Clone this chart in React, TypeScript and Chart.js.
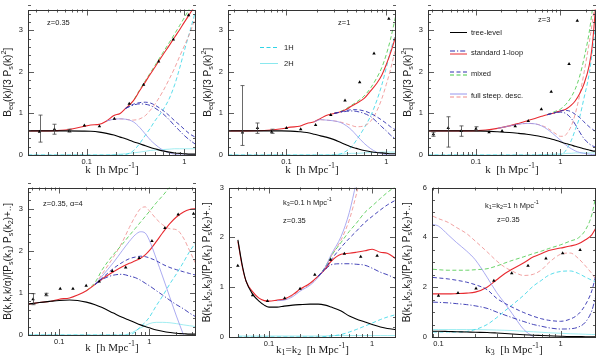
import React, { useEffect, useRef } from "react";
import { Chart, registerables } from "chart.js";
Chart.register(...registerables);

const SANS = '"Liberation Sans", Arial, sans-serif';
const SERIF = '"Liberation Serif", "Times New Roman", serif';

const COL = {
  tree: "#000000",
  red: "#e82a30",
  blue: "#3030b0",
  green: "#44c844",
  lav: "#9696ee",
  pink: "#ee8a8a",
  cyan: "#30d4e6",
  cyan2: "#8ae8ee",
};

const _ = null;

// ---------------- Panel 1 : z = 0.35 equilateral ----------------
const p1K = [0.025, 0.04, 0.06, 0.09, 0.11, 0.135, 0.16, 0.19, 0.22, 0.25, 0.3, 0.35, 0.4, 0.45, 0.5, 0.6, 0.7, 0.8, 0.9, 1.0, 1.15, 1.32];
const p1Tree = [0.58, 0.58, 0.58, 0.575, 0.57, 0.55, 0.52, 0.48, 0.43, 0.39, 0.32, 0.27, 0.22, 0.18, 0.15, 0.1, 0.07, 0.05, 0.04, 0.03, 0.02, 0.02];
const p1Std = [0.58, 0.58, 0.6, 0.68, 0.72, 0.74, 0.82, 0.95, 1.0, 1.12, 1.3, 1.55, 1.76, 1.95, 2.11, 2.4, 2.63, 2.84, 3.02, 3.19, 3.41, 3.63];
const p1Mix = [_, _, _, _, _, _, _, _, _, 1.12, 1.31, 1.57, 1.79, 1.98, 2.15, 2.45, 2.7, 2.92, 3.12, 3.3, 3.55, 3.82];
const p1StdD = [_, _, _, _, _, _, _, _, _, 1.12, 1.2, 1.23, 1.22, 1.19, 1.13, 1.0, 0.85, 0.7, 0.58, 0.47, 0.35, 0.25];
const p1MixD = [_, _, _, _, _, _, _, _, _, 1.12, 1.22, 1.26, 1.27, 1.25, 1.2, 1.08, 0.95, 0.82, 0.72, 0.62, 0.5, 0.42];
const p1FsdD = [_, _, _, _, _, _, 0.82, 0.86, 0.87, 0.86, 0.8, 0.66, 0.5, 0.36, 0.26, 0.12, 0.05, 0.02, 0.0, 0.0, 0.0, 0.0];
const p1Fsd = [_, _, _, _, _, _, 0.82, 0.86, 0.87, 0.86, 0.84, 0.87, 0.95, 1.08, 1.22, 1.52, 1.82, 2.1, 2.38, 2.62, 2.95, 3.35];
const p1H1 = [0, 0, 0, 0, 0, 0, 0, 0, 0, 0.01, 0.1, 0.28, 0.48, 0.65, 0.82, 1.07, 1.35, 1.7, 2.1, 2.5, 3.0, 3.5];
const p1H2 = [0, 0, 0, 0, 0, 0, 0, 0.01, 0.02, 0.03, 0.05, 0.07, 0.09, 0.11, 0.12, 0.13, 0.14, 0.15, 0.15, 0.15, 0.15, 0.15];
const p1PtK = [0.0328, 0.0467, 0.0664, 0.0946, 0.135, 0.192, 0.273, 0.383, 0.546, 0.772, 1.107];
const p1PtY = [0.56, 0.62, 0.58, 0.71, 0.69, 0.87, 1.23, 1.69, 2.25, 2.78, 3.36];
const p1PtLo = [0.31, 0.5, 0.55, _, _, _, _, _, _, _, _];
const p1PtHi = [0.96, 0.74, 0.62, _, _, _, _, _, _, _, _];

// ---------------- Panel 2 : z = 1 equilateral ----------------
const p2K = [0.026, 0.04, 0.06, 0.09, 0.11, 0.135, 0.16, 0.19, 0.22, 0.25, 0.3, 0.35, 0.4, 0.45, 0.5, 0.6, 0.7, 0.8, 0.9, 1.0, 1.1, 1.25];
const p2Tree = [0.58, 0.58, 0.58, 0.58, 0.575, 0.56, 0.54, 0.5, 0.46, 0.43, 0.37, 0.3, 0.24, 0.19, 0.16, 0.11, 0.08, 0.06, 0.05, 0.04, 0.03, 0.03];
const p2Std = [0.58, 0.58, 0.59, 0.63, 0.67, 0.69, 0.76, 0.8, 0.88, 0.95, 1.0, 1.04, 1.1, 1.18, 1.24, 1.36, 1.55, 1.72, 1.92, 2.18, 2.45, 2.88];
const p2Mix = [_, _, _, _, _, _, _, _, _, _, 1.0, 1.05, 1.12, 1.2, 1.27, 1.42, 1.62, 1.85, 2.1, 2.42, 2.78, 3.38];
const p2StdD = [_, _, _, _, _, _, _, _, _, _, 1.0, 1.03, 1.05, 1.06, 1.05, 1.0, 0.92, 0.8, 0.68, 0.58, 0.48, 0.38];
const p2MixD = [_, _, _, _, _, _, _, _, _, _, 1.0, 1.04, 1.07, 1.09, 1.09, 1.06, 1.0, 0.92, 0.84, 0.76, 0.68, 0.6];
const p2FsdD = [_, _, _, _, _, _, _, 0.8, 0.85, 0.84, 0.82, 0.78, 0.7, 0.6, 0.48, 0.28, 0.15, 0.07, 0.03, 0.01, 0.0, 0.0];
const p2Fsd = [_, _, _, _, _, _, _, 0.8, 0.85, 0.84, 0.82, 0.79, 0.75, 0.71, 0.68, 0.7, 0.82, 1.05, 1.35, 1.7, 2.05, 2.6];
const p2H1 = [0, 0, 0, 0, 0, 0, 0, 0, 0, 0, 0, 0.03, 0.1, 0.2, 0.35, 0.65, 0.95, 1.3, 1.68, 2.1, 2.5, 2.95];
const p2H2 = [0, 0, 0, 0, 0, 0, 0, 0, 0, 0, 0.01, 0.02, 0.03, 0.04, 0.04, 0.05, 0.06, 0.06, 0.07, 0.07, 0.07, 0.07];
const p2PtK = [0.0363, 0.0513, 0.0713, 0.1, 0.139, 0.196, 0.278, 0.386, 0.541, 0.753, 1.06];
const p2PtY = [0.54, 0.65, 0.56, 0.65, 0.62, 0.72, 0.96, 1.31, 1.75, 2.44, 3.28];
const p2PtLo = [0.23, 0.52, 0.52, _, _, _, _, _, _, _, _];
const p2PtHi = [1.67, 0.77, 0.62, _, _, _, _, _, _, _, _];

// ---------------- Panel 3 : z = 3 equilateral ----------------
const p3K = [0.027, 0.04, 0.06, 0.09, 0.13, 0.18, 0.25, 0.32, 0.4, 0.5, 0.6, 0.7, 0.8, 0.9, 1.0, 1.1, 1.2, 1.35, 1.5, 1.7, 1.9, 2.2, 2.4, 2.65];
const p3Tree = [0.58, 0.58, 0.58, 0.58, 0.575, 0.56, 0.54, 0.52, 0.5, 0.47, 0.44, 0.41, 0.38, 0.35, 0.32, 0.29, 0.27, 0.24, 0.21, 0.18, 0.15, 0.12, 0.1, 0.09];
const p3Std = [0.58, 0.58, 0.58, 0.58, 0.6, 0.64, 0.7, 0.76, 0.82, 0.88, 0.93, 0.97, 1.0, 1.03, 1.06, 1.08, 1.12, 1.2, 1.3, 1.48, 1.7, 2.15, 2.65, 3.7];
const p3Mix = [_, _, _, _, _, _, _, _, _, _, _, 0.97, 1.02, 1.06, 1.1, 1.17, 1.25, 1.4, 1.58, 1.9, 2.3, 2.95, 3.5, 4.2];
const p3StdD = [_, _, _, _, _, _, _, _, _, _, _, 0.97, 1.0, 1.02, 1.03, 1.02, 0.98, 0.88, 0.74, 0.55, 0.4, 0.27, 0.22, 0.19];
const p3MixD = [_, _, _, _, _, _, _, _, _, _, _, 0.97, 1.0, 1.03, 1.06, 1.07, 1.07, 1.04, 0.98, 0.9, 0.8, 0.68, 0.62, 0.56];
const p3FsdD = [_, _, _, _, _, 0.64, 0.7, 0.74, 0.76, 0.75, 0.7, 0.62, 0.53, 0.44, 0.36, 0.28, 0.22, 0.15, 0.1, 0.06, 0.04, 0.02, 0.01, 0.01];
const p3Fsd = [_, _, _, _, _, 0.64, 0.7, 0.74, 0.76, 0.75, 0.71, 0.65, 0.57, 0.5, 0.45, 0.45, 0.52, 0.7, 0.98, 1.45, 1.95, 2.7, 3.2, 3.9];
const p3H1 = [0, 0, 0, 0, 0, 0, 0, 0, 0, 0, 0, 0, 0, 0, 0, 0.05, 0.15, 0.35, 0.6, 0.92, 1.35, 1.95, 2.5, 3.2];
const p3H2 = [0, 0, 0, 0, 0, 0, 0, 0, 0, 0, 0.01, 0.01, 0.02, 0.02, 0.03, 0.03, 0.04, 0.04, 0.05, 0.05, 0.05, 0.05, 0.05, 0.05];
const p3PtK = [0.0313, 0.0469, 0.0668, 0.1, 0.143, 0.204, 0.292, 0.417, 0.596, 0.78, 1.27, 1.59];
const p3PtY = [0.5, 0.65, 0.58, 0.63, 0.55, 0.58, 0.69, 0.82, 1.1, 1.52, 2.19, 3.23];
const p3PtLo = [0.45, 0.19, 0.45, 0.58, _, _, _, _, _, _, _, _];
const p3PtHi = [0.55, 0.92, 0.7, 0.68, _, _, _, _, _, _, _, _];

// ---------------- Panel 4 : z = 0.35, alpha = 4 ----------------
const p4K = [0.045, 0.06, 0.08, 0.1, 0.13, 0.16, 0.2, 0.25, 0.3, 0.4, 0.5, 0.6, 0.7, 0.8, 0.9, 1.0, 1.2, 1.4, 1.7, 2.0, 2.4, 2.8, 3.3];
const p4Tree = [0.73, 0.77, 0.8, 0.82, 0.83, 0.82, 0.78, 0.72, 0.65, 0.52, 0.42, 0.35, 0.29, 0.24, 0.2, 0.17, 0.12, 0.09, 0.06, 0.04, 0.03, 0.02, 0.02];
const p4Std = [0.73, 0.77, 0.8, 0.85, 0.88, 0.95, 1.05, 1.2, 1.33, 1.5, 1.62, 1.7, 1.76, 1.82, 1.9, 2.0, 2.22, 2.42, 2.65, 2.8, 2.92, 2.98, 3.0];
const p4Mix = [_, _, _, _, _, _, 1.05, 1.25, 1.55, 1.91, 2.15, 2.36, 2.53, 2.68, 2.81, 2.93, 3.14, 3.3, 3.52, 3.71, _, _, _];
const p4StdD = [_, _, _, _, _, _, _, 1.2, 1.32, 1.42, 1.44, 1.4, 1.36, 1.3, 1.23, 1.17, 1.05, 0.95, 0.82, 0.72, 0.62, 0.52, 0.43];
const p4MixD = [_, _, _, _, _, _, _, 1.2, 1.35, 1.58, 1.72, 1.81, 1.85, 1.87, 1.86, 1.83, 1.76, 1.68, 1.6, 1.55, 1.5, 1.46, 1.42];
const p4FsdD = [_, _, _, _, _, _, _, 1.2, 1.4, 1.72, 2.0, 2.22, 2.38, 2.45, 2.42, 2.25, 1.8, 1.4, 0.88, 0.45, 0.0, _, _];
const p4Fsd = [_, _, _, _, _, _, _, 1.2, 1.45, 1.85, 2.2, 2.55, 2.82, 3.0, 3.04, 2.95, 2.75, 2.62, 2.52, 2.5, 2.3, 2.0, 1.68];
const p4H1 = [0, 0, 0, 0, 0, 0, 0, 0, 0, 0, 0, 0, 0.08, 0.2, 0.3, 0.42, 0.7, 0.92, 1.22, 1.45, 1.73, 1.98, 2.2];
const p4H2 = [0, 0, 0, 0, 0, 0, 0, 0, 0, 0, 0, 0.03, 0.1, 0.17, 0.22, 0.27, 0.3, 0.3, 0.29, 0.27, 0.24, 0.22, 0.2];
const p4PtK = [0.0512, 0.0716, 0.1025, 0.142, 0.199, 0.278, 0.388, 0.547, 0.771, 1.07, 1.49, 2.09, 3.1];
const p4PtY = [0.85, 0.96, 1.1, 1.1, 1.17, 1.27, 1.52, 1.6, 1.83, 2.23, 2.54, 2.86, 2.88];
const p4PtLo = [0.72, 0.93, _, _, _, _, _, _, _, _, _, _, _];
const p4PtHi = [0.98, 0.99, _, _, _, _, _, _, _, _, _, _, _];

// ---------------- Panel 5 : k3 = 0.1, z = 0.35 ----------------
const p5K = [0.05, 0.055, 0.06, 0.07, 0.08, 0.09, 0.1, 0.12, 0.14, 0.17, 0.2, 0.25, 0.3, 0.35, 0.4, 0.5, 0.6, 0.7, 0.85, 1.0, 1.2, 1.4, 1.7];
const p5Tree = [1.95, 1.45, 1.12, 0.85, 0.72, 0.64, 0.6, 0.6, 0.62, 0.64, 0.65, 0.66, 0.66, 0.64, 0.6, 0.52, 0.42, 0.36, 0.3, 0.25, 0.2, 0.17, 0.15];
const p5Std = [1.92, 1.42, 1.12, 0.9, 0.78, 0.73, 0.72, 0.74, 0.76, 0.85, 0.96, 1.08, 1.22, 1.36, 1.52, 1.66, 1.68, 1.7, 1.73, 1.76, 1.7, 1.68, 1.57];
const p5Mix = [_, _, _, _, _, _, _, _, _, _, _, _, 1.22, 1.4, 1.62, 1.9, 2.12, 2.28, 2.5, 2.63, 2.78, 2.9, 3.03];
const p5StdD = [_, _, _, _, _, _, _, _, _, _, _, _, 1.22, 1.35, 1.45, 1.47, 1.47, 1.46, 1.44, 1.38, 1.3, 1.25, 1.17];
const p5MixD = [_, _, _, _, _, _, _, _, _, _, _, _, 1.22, 1.38, 1.55, 1.8, 1.98, 2.12, 2.3, 2.42, 2.55, 2.65, 2.75];
const p5FsdD = [_, _, _, _, _, _, _, 0.73, 0.74, 0.81, 0.92, 1.04, 1.2, 1.4, 1.65, 2.02, 2.5, 3.1, 3.9, _, _, _, _];
const p5Fsd = [_, _, _, _, _, _, _, 0.73, 0.75, 0.83, 0.94, 1.06, 1.21, 1.38, 1.62, 1.95, 2.35, 2.85, 3.55, _, _, _, _];
const p5H1 = [0, 0, 0, 0, 0, 0, 0, 0, 0, 0, 0, 0, 0, 0.01, 0.02, 0.05, 0.1, 0.15, 0.22, 0.28, 0.35, 0.4, 0.45];
const p5H2 = [0.02, 0.02, 0.02, 0.02, 0.02, 0.02, 0.02, 0.02, 0.02, 0.02, 0.02, 0.02, 0.02, 0.02, 0.03, 0.03, 0.03, 0.03, 0.03, 0.03, 0.03, 0.03, 0.03];
const p5PtK = [0.0499, 0.0694, 0.0967, 0.142, 0.2, 0.278, 0.395, 0.537, 0.774, 1.116];
const p5PtY = [1.43, 0.84, 0.72, 0.78, 0.97, 1.25, 1.55, 1.67, 1.61, 1.63];

// ---------------- Panel 6 : k1 = k2 = 1, z = 0.35 ----------------
const p6K = [0.09, 0.1, 0.12, 0.14, 0.17, 0.2, 0.25, 0.3, 0.35, 0.4, 0.5, 0.6, 0.7, 0.8, 1.0, 1.2, 1.4, 1.6, 1.8, 1.95];
const p6Tree = [0.23, 0.23, 0.22, 0.21, 0.2, 0.19, 0.18, 0.16, 0.14, 0.12, 0.09, 0.07, 0.06, 0.05, 0.03, 0.02, 0.02, 0.01, 0.01, 0.01];
const p6Std = [1.73, 1.73, 1.73, 1.74, 1.76, 1.8, 2.0, 2.3, 2.55, 2.72, 2.98, 3.22, 3.35, 3.47, 3.57, 3.65, 3.74, 3.9, 4.1, 4.38];
const p6Mix = [2.72, 2.7, 2.68, 2.68, 2.68, 2.7, 2.74, 2.85, 2.97, 3.07, 3.22, 3.35, 3.45, 3.55, 3.7, 3.85, 3.98, 4.3, 4.9, 5.7];
const p6StdD = [1.4, 1.39, 1.37, 1.34, 1.3, 1.25, 1.15, 1.0, 0.88, 0.78, 0.62, 0.5, 0.43, 0.37, 0.32, 0.33, 0.4, 0.6, 1.05, 1.66];
const p6MixD = [2.39, 2.37, 2.33, 2.28, 2.2, 2.1, 1.9, 1.55, 1.35, 1.2, 0.98, 0.83, 0.73, 0.67, 0.63, 0.72, 0.92, 1.3, 1.85, 2.5];
const p6FsdD = [4.52, 4.45, 4.1, 3.8, 3.45, 3.1, 2.4, 1.78, 1.35, 0.95, 0.3, 0.0, _, _, _, _, _, _, _, _];
const p6Fsd = [4.85, 4.75, 4.6, 4.4, 4.15, 3.85, 3.42, 3.05, 2.8, 2.65, 2.47, 2.52, 2.7, 2.98, 3.32, 3.37, 3.15, 2.85, 2.55, 2.32];
const p6H1 = [0.2, 0.2, 0.2, 0.2, 0.22, 0.3, 0.5, 0.78, 1.05, 1.28, 1.68, 2.05, 2.28, 2.48, 2.63, 2.65, 2.55, 2.4, 2.28, 2.19];
const p6H2 = [0.3, 0.3, 0.3, 0.3, 0.3, 0.3, 0.29, 0.28, 0.27, 0.26, 0.23, 0.21, 0.19, 0.17, 0.15, 0.13, 0.12, 0.11, 0.1, 0.1];
const p6PtK = [0.1, 0.1445, 0.203, 0.284, 0.398, 0.541, 0.759, 1.04, 1.445];
const p6PtY = [1.66, 1.77, 1.95, 2.26, 2.56, 2.86, 3.15, 3.36, 3.49];

// ---------------- axis ticks & labels ----------------
const xTicksTop = [0.1, 1];
const yTicks3 = [0, 1, 2, 3];
const yTicks6 = [0, 2, 4, 6];

const yTitleEq = "B_{eq}(k)/[3 P_{s}(k)^{2}]";
const yTitleAlpha = "B(k,k,k/α)/[P_{s}(k_{1}) P_{s}(k_{2})+..]";
const yTitleGen = "B(k_{1},k_{2},k_{3})/[P_{s}(k_{1}) P_{s}(k_{2})+..]";
const xTitleK = "k  [h Mpc^{-1}]";
const xTitleK12 = "k_{1}=k_{2}  [h Mpc^{-1}]";
const xTitleK3 = "k_{3}  [h Mpc^{-1}]";

const legendLabels = ["tree-level", "standard 1-loop", "mixed", "full steep. desc."];
const haloLabels = ["1H", "2H"];

// ---------------- rich text helper ----------------
type Seg = { t: string; m: number };
function parseRich(s: string): Seg[] {
  const out: Seg[] = [];
  let buf = "";
  let i = 0;
  while (i < s.length) {
    const c = s[i];
    if ((c === "_" || c === "^") && s[i + 1] === "{") {
      if (buf) { out.push({ t: buf, m: 0 }); buf = ""; }
      const end = s.indexOf("}", i);
      out.push({ t: s.slice(i + 2, end), m: c === "_" ? 1 : 2 });
      i = end + 1;
    } else { buf += c; i++; }
  }
  if (buf) out.push({ t: buf, m: 0 });
  return out;
}
function drawRich(ctx: CanvasRenderingContext2D, s: string, x: number, y: number, size: number, family: string, align: string, rot = 0) {
  const segs = parseRich(s);
  const small = size * 0.72;
  const fontOf = (m: number) => `${m ? small : size}px ${family}`;
  let w = 0;
  for (const sg of segs) { ctx.font = fontOf(sg.m); w += ctx.measureText(sg.t).width; }
  ctx.save();
  ctx.translate(x, y);
  if (rot) ctx.rotate(rot);
  let cx = align === "center" ? -w / 2 : 0;
  ctx.textBaseline = "middle";
  ctx.textAlign = "left";
  ctx.fillStyle = "#1a1a1a";
  for (const sg of segs) {
    ctx.font = fontOf(sg.m);
    const dy = sg.m === 1 ? size * 0.3 : sg.m === 2 ? -size * 0.38 : 0;
    ctx.fillText(sg.t, cx, dy);
    cx += ctx.measureText(sg.t).width;
  }
  ctx.restore();
}

// ---------------- dataset builders ----------------
function curve(k: number[], y: (number | null)[], color: string, dash: number[], width: number) {
  return {
    type: "line",
    data: k.map((x, i) => ({ x, y: y[i] })),
    borderColor: color,
    borderWidth: width,
    borderDash: dash,
    pointRadius: 0,
    fill: false,
    cubicInterpolationMode: "monotone",
    spanGaps: false,
  };
}
function points(k: number[], y: number[], lo?: (number | null)[], hi?: (number | null)[]) {
  return {
    type: "line",
    data: k.map((x, i) => ({ x, y: y[i] })),
    showLine: false,
    pointStyle: "triangle",
    pointRadius: 2,
    pointBackgroundColor: "#000",
    pointBorderColor: "#000",
    pointBorderWidth: 0,
    errLo: lo,
    errHi: hi,
  };
}
const DASH = [4, 2.5];
const DASHDOT = [5, 2, 1.2, 2];

function curveSet(k: number[], tree: any[], std: any[], mix: any[], stdD: any[], mixD: any[], fsdD: any[], fsd: any[], h1: any[], h2: any[]) {
  return [
    curve(k, tree, COL.tree, [], 1.1),
    curve(k, stdD, COL.blue, DASHDOT, 0.9),
    curve(k, mixD, COL.blue, DASH, 0.9),
    curve(k, fsdD, COL.lav, [], 0.8),
    curve(k, std, COL.red, [], 1.1),
    curve(k, mix, COL.green, DASH, 0.8),
    curve(k, fsd, COL.pink, DASH, 0.8),
    curve(k, h1, COL.cyan, DASH, 0.8),
    curve(k, h2, COL.cyan2, [], 0.8),
  ];
}

type Note = { t: string; dx: number; dy: number };
type PanelCfg = {
  box: number[];
  plot: number[];
  xMin: number; xMax: number; yMax: number;
  yTicks: number[]; yMinor: number;
  xTitle: string; yTitle: string; yTitleX: number;
  datasets: any[];
  notes: Note[];
  legend?: string;
};

const panels: PanelCfg[] = [
  {
    box: [0, 0, 200, 178], plot: [28, 5, 197, 155],
    xMin: 0.025, xMax: 1.32, yMax: 3.5, yTicks: yTicks3, yMinor: 0.2,
    xTitle: xTitleK, yTitle: yTitleEq, yTitleX: 8,
    datasets: [points(p1PtK, p1PtY, p1PtLo, p1PtHi), ...curveSet(p1K, p1Tree, p1Std, p1Mix, p1StdD, p1MixD, p1FsdD, p1Fsd, p1H1, p1H2)],
    notes: [{ t: "z=0.35", dx: 19, dy: 13 }],
  },
  {
    box: [200, 0, 200, 178], plot: [228, 5, 397, 155],
    xMin: 0.026, xMax: 1.25, yMax: 3.5, yTicks: yTicks3, yMinor: 0.2,
    xTitle: xTitleK, yTitle: yTitleEq, yTitleX: 208,
    datasets: [points(p2PtK, p2PtY, p2PtLo, p2PtHi), ...curveSet(p2K, p2Tree, p2Std, p2Mix, p2StdD, p2MixD, p2FsdD, p2Fsd, p2H1, p2H2)],
    notes: [{ t: "z=1", dx: 110, dy: 13 }],
    legend: "halo",
  },
  {
    box: [400, 0, 200, 178], plot: [428, 5, 599, 155],
    xMin: 0.027, xMax: 2.65, yMax: 3.5, yTicks: yTicks3, yMinor: 0.2,
    xTitle: xTitleK, yTitle: yTitleEq, yTitleX: 408,
    datasets: [points(p3PtK, p3PtY, p3PtLo, p3PtHi), ...curveSet(p3K, p3Tree, p3Std, p3Mix, p3StdD, p3MixD, p3FsdD, p3Fsd, p3H1, p3H2)],
    notes: [{ t: "z=3", dx: 110, dy: 10 }],
    legend: "main",
  },
  {
    box: [0, 178, 200, 177], plot: [28, 183, 199, 335],
    xMin: 0.045, xMax: 3.3, yMax: 3.5, yTicks: yTicks3, yMinor: 0.2,
    xTitle: xTitleK, yTitle: yTitleAlpha, yTitleX: 8,
    datasets: [points(p4PtK, p4PtY, p4PtLo, p4PtHi), ...curveSet(p4K, p4Tree, p4Std, p4Mix, p4StdD, p4MixD, p4FsdD, p4Fsd, p4H1, p4H2)],
    notes: [{ t: "z=0.35, α=4", dx: 15, dy: 16 }],
  },
  {
    box: [200, 178, 200, 177], plot: [229, 185, 399, 337],
    xMin: 0.041, xMax: 1.7, yMax: 3, yTicks: yTicks3, yMinor: 0.2,
    xTitle: xTitleK12, yTitle: yTitleGen, yTitleX: 207,
    datasets: [points(p5PtK, p5PtY), ...curveSet(p5K, p5Tree, p5Std, p5Mix, p5StdD, p5MixD, p5FsdD, p5Fsd, p5H1, p5H2)],
    notes: [{ t: "k_{3}=0.1 h Mpc^{-1}", dx: 54, dy: 15 }, { t: "z=0.35", dx: 54, dy: 33 }],
  },
  {
    box: [400, 178, 200, 177], plot: [432, 185, 599, 337],
    xMin: 0.0885, xMax: 1.95, yMax: 6, yTicks: yTicks6, yMinor: 0.5,
    xTitle: xTitleK3, yTitle: yTitleGen, yTitleX: 407,
    datasets: [points(p6PtK, p6PtY), ...curveSet(p6K, p6Tree, p6Std, p6Mix, p6StdD, p6MixD, p6FsdD, p6Fsd, p6H1, p6H2)],
    notes: [{ t: "k_{1}=k_{2}=1 h Mpc^{-1}", dx: 53, dy: 18 }, { t: "z=0.35", dx: 65, dy: 32 }],
  },
];

function seg(ctx: CanvasRenderingContext2D, x0: number, y0: number, x1: number, y1: number, color: string, dash: number[], w: number) {
  ctx.save();
  ctx.strokeStyle = color; ctx.lineWidth = w; ctx.setLineDash(dash);
  ctx.beginPath(); ctx.moveTo(x0, y0); ctx.lineTo(x1, y1); ctx.stroke();
  ctx.restore();
}

function makePlugin(cfg: PanelCfg) {
  return {
    id: "decor",
    afterDraw(chart: any) {
      const ctx: CanvasRenderingContext2D = chart.ctx;
      const a = chart.chartArea;
      const xs = chart.scales.x;
      const ys = chart.scales.y;
      const ox = cfg.box[0], oy = cfg.box[1];
      ctx.save();
      chart.data.datasets.forEach((ds: any) => {
        if (!ds.errLo) return;
        ds.data.forEach((p: any, i: number) => {
          const lo = ds.errLo[i], hi = ds.errHi[i];
          if (lo == null || hi == null) return;
          const px = Math.round(xs.getPixelForValue(p.x)) + 0.5;
          const y0 = ys.getPixelForValue(lo), y1 = ys.getPixelForValue(hi);
          seg(ctx, px, y0, px, y1, "#444", [], 0.8);
          seg(ctx, px - 2, y0, px + 2, y0, "#444", [], 0.8);
          seg(ctx, px - 2, y1, px + 2, y1, "#444", [], 0.8);
        });
      });
      ctx.strokeStyle = "#333"; ctx.lineWidth = 1; ctx.setLineDash([]);
      ctx.strokeRect(Math.round(a.left) + 0.5, Math.round(a.top) + 0.5, Math.round(a.right - a.left) - 1, Math.round(a.bottom - a.top) - 1);
      ctx.lineWidth = 0.8;
      for (let d = Math.floor(Math.log10(cfg.xMin)); d <= Math.ceil(Math.log10(cfg.xMax)); d++) {
        for (let m = 1; m <= 9; m++) {
          const v = m * Math.pow(10, d);
          if (v < cfg.xMin || v > cfg.xMax) continue;
          const px = Math.round(xs.getPixelForValue(v)) + 0.5;
          const len = m === 1 ? 6 : 3;
          ctx.beginPath();
          ctx.moveTo(px, a.bottom); ctx.lineTo(px, a.bottom - len);
          ctx.moveTo(px, a.top); ctx.lineTo(px, a.top + len);
          ctx.stroke();
        }
      }
      const nMinor = Math.round(cfg.yMax / cfg.yMinor);
      const major = cfg.yTicks[1] - cfg.yTicks[0];
      for (let i = 0; i <= nMinor; i++) {
        const v = i * cfg.yMinor;
        const py = Math.round(ys.getPixelForValue(v)) + 0.5;
        const isMajor = Math.abs(v / major - Math.round(v / major)) < 1e-6;
        const len = isMajor ? 6 : 3;
        ctx.beginPath();
        ctx.moveTo(a.left, py); ctx.lineTo(a.left + len, py);
        ctx.moveTo(a.right, py); ctx.lineTo(a.right - len, py);
        ctx.stroke();
      }
      drawRich(ctx, cfg.xTitle, (a.left + a.right) / 2, a.bottom + (oy === 0 ? 15 : 13), 11, SERIF, "center");
      drawRich(ctx, cfg.yTitle, cfg.yTitleX - ox, (a.top + a.bottom) / 2, 10, SANS, "center", -Math.PI / 2);
      for (const n of cfg.notes) drawRich(ctx, n.t, a.left + n.dx, a.top + n.dy, 7.5, SANS, "left");
      if (cfg.legend === "main") {
        const lx = a.left + 22, ll = 17, tx = a.left + 43;
        const rows = [23, 43, 64, 86];
        seg(ctx, lx, a.top + rows[0], lx + ll, a.top + rows[0], COL.tree, [], 1);
        seg(ctx, lx, a.top + rows[1] - 1.5, lx + ll, a.top + rows[1] - 1.5, COL.blue, DASHDOT, 1);
        seg(ctx, lx, a.top + rows[1] + 1.5, lx + ll, a.top + rows[1] + 1.5, COL.red, [], 1);
        seg(ctx, lx, a.top + rows[2] - 1.5, lx + ll, a.top + rows[2] - 1.5, COL.blue, DASH, 1);
        seg(ctx, lx, a.top + rows[2] + 1.5, lx + ll, a.top + rows[2] + 1.5, COL.green, DASH, 1);
        seg(ctx, lx, a.top + rows[3] - 1.5, lx + ll, a.top + rows[3] - 1.5, COL.lav, [], 1);
        seg(ctx, lx, a.top + rows[3] + 1.5, lx + ll, a.top + rows[3] + 1.5, COL.pink, DASH, 1);
        legendLabels.forEach((t, i) => drawRich(ctx, t, tx, a.top + rows[i], 7.5, SANS, "left"));
      }
      if (cfg.legend === "halo") {
        const lx = a.left + 32, ll = 18, tx = a.left + 56;
        seg(ctx, lx, a.top + 38, lx + ll, a.top + 38, COL.cyan, DASH, 1);
        seg(ctx, lx, a.top + 54, lx + ll, a.top + 54, COL.cyan2, [], 1);
        drawRich(ctx, haloLabels[0], tx, a.top + 38, 7.5, SANS, "left");
        drawRich(ctx, haloLabels[1], tx, a.top + 54, 7.5, SANS, "left");
      }
      ctx.restore();
    },
  };
}

function buildConfig(cfg: PanelCfg): any {
  const [cx, cy, cw, ch] = cfg.box;
  const [pl, pt, pr, pb] = cfg.plot;
  return {
    type: "line",
    data: { datasets: cfg.datasets },
    options: {
      responsive: false,
      animation: false,
      events: [],
      layout: { padding: { left: 0, top: pt - cy, right: cx + cw - pr, bottom: 0 } },
      plugins: { legend: { display: false }, tooltip: { enabled: false } },
      scales: {
        x: {
          type: "logarithmic", min: cfg.xMin, max: cfg.xMax,
          grid: { display: false, drawTicks: false }, border: { display: false },
          ticks: { font: { family: SANS, size: 7.5 }, color: "#222", padding: 2, autoSkip: false, maxRotation: 0, callback: (v: any) => String(v) },
          afterBuildTicks: (s: any) => { s.ticks = xTicksTop.filter((v) => v >= cfg.xMin && v <= cfg.xMax).map((v) => ({ value: v })); },
          afterFit: (s: any) => { s.height = cy + ch - pb; },
        },
        y: {
          type: "linear", min: 0, max: cfg.yMax,
          grid: { display: false, drawTicks: false }, border: { display: false },
          ticks: { font: { family: SANS, size: 7.5 }, color: "#222", padding: 5, callback: (v: any) => String(v) },
          afterBuildTicks: (s: any) => { s.ticks = cfg.yTicks.map((v) => ({ value: v })); },
          afterFit: (s: any) => { s.width = pl - cx; },
        },
      },
    },
    plugins: [makePlugin(cfg)],
  };
}

function Panel({ cfg }: { cfg: PanelCfg }) {
  const ref = useRef<HTMLCanvasElement>(null);
  useEffect(() => {
    const chart = new Chart(ref.current as HTMLCanvasElement, buildConfig(cfg));
    return () => chart.destroy();
  }, [cfg]);
  const [x, y, w, h] = cfg.box;
  return (
    <div style={{ position: "absolute", left: x, top: y, width: w, height: h }}>
      <canvas ref={ref} width={w} height={h} style={{ width: w, height: h, display: "block" }} />
    </div>
  );
}

export default function App() {
  return (
    <div style={{ position: "absolute", left: 0, top: 0, width: 600, height: 355, background: "#fff", overflow: "hidden" }}>
      {panels.map((p, i) => (
        <Panel key={i} cfg={p} />
      ))}
    </div>
  );
}
